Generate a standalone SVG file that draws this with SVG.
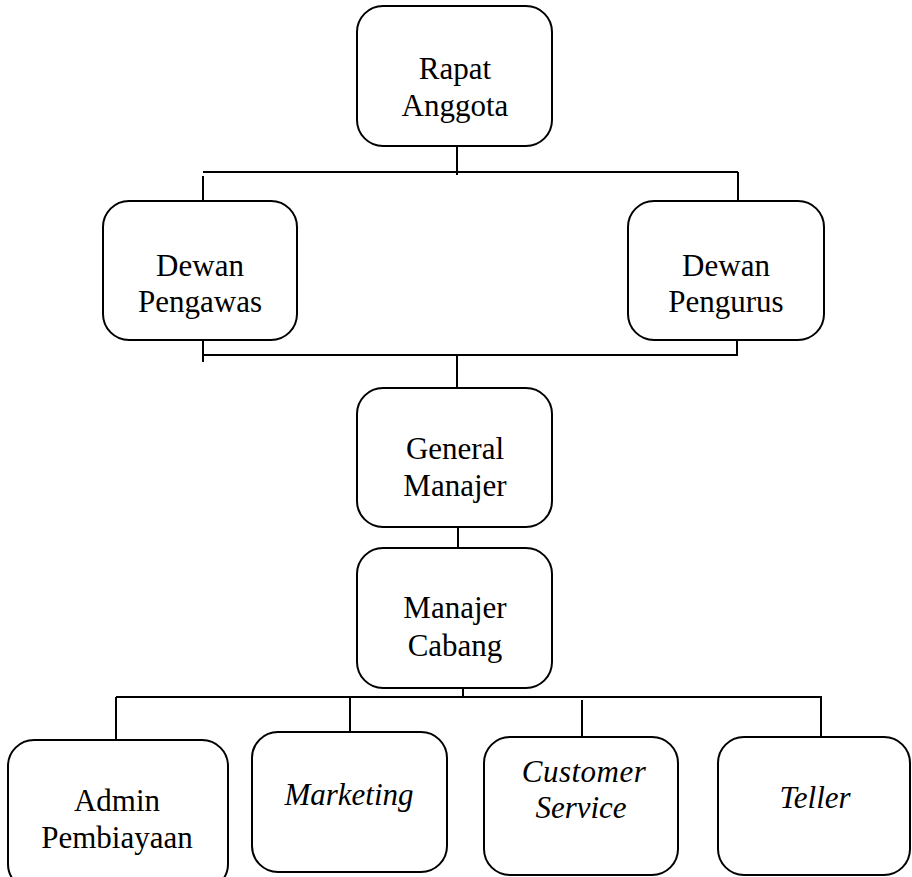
<svg xmlns="http://www.w3.org/2000/svg" width="912" height="877" viewBox="0 0 912 877">
<style>
.box{fill:#fff;stroke:#000;stroke-width:2}
.ln{stroke:#000;stroke-width:2;fill:none}
text{font-family:"Liberation Serif","Times New Roman",serif;font-size:31px;fill:#000;text-anchor:middle}
.it{font-style:italic}
</style>
<rect width="912" height="877" fill="#fff"/>
<g id="connectors">
<line class="ln" x1="457" y1="133" x2="457" y2="175"/>
<line class="ln" x1="203" y1="172" x2="738" y2="172"/>
<line class="ln" x1="203" y1="176" x2="203" y2="201"/>
<line class="ln" x1="738" y1="172" x2="738" y2="201"/>
<line class="ln" x1="203" y1="340" x2="203" y2="362"/>
<line class="ln" x1="203" y1="355" x2="738" y2="355"/>
<line class="ln" x1="737" y1="340" x2="737" y2="355"/>
<line class="ln" x1="457" y1="355" x2="457" y2="388"/>
<line class="ln" x1="458" y1="527" x2="458" y2="548"/>
<line class="ln" x1="463" y1="688" x2="463" y2="697"/>
<line class="ln" x1="116" y1="697" x2="822" y2="697"/>
<line class="ln" x1="116" y1="697" x2="116" y2="740"/>
<line class="ln" x1="350" y1="697" x2="350" y2="740"/>
<line class="ln" x1="582" y1="700" x2="582" y2="743"/>
<line class="ln" x1="821" y1="697" x2="821" y2="743"/>
</g>
<g id="rapat-anggota">
<rect class="box" x="357" y="6" width="195" height="140" rx="26"/>
<text x="455" y="79">Rapat</text>
<text x="455" y="116">Anggota</text>
</g>
<g id="dewan-pengawas">
<rect class="box" x="103" y="201" width="194" height="139" rx="26"/>
<text x="200" y="276">Dewan</text>
<text x="200" y="312">Pengawas</text>
</g>
<g id="dewan-pengurus">
<rect class="box" x="628" y="201" width="196" height="139" rx="26"/>
<text x="726" y="276">Dewan</text>
<text x="726" y="312">Pengurus</text>
</g>
<g id="general-manajer">
<rect class="box" x="357" y="388" width="195" height="139" rx="26"/>
<text x="455" y="459">General</text>
<text x="455" y="496">Manajer</text>
</g>
<g id="manajer-cabang">
<rect class="box" x="357" y="548" width="195" height="140" rx="26"/>
<text x="455" y="618">Manajer</text>
<text x="455" y="656">Cabang</text>
</g>
<g id="admin-pembiayaan">
<rect class="box" x="8" y="740" width="220" height="150" rx="26"/>
<text x="117" y="811">Admin</text>
<text x="117" y="848">Pembiayaan</text>
</g>
<g id="marketing">
<rect class="box" x="252" y="732" width="195" height="140" rx="26"/>
<text class="it" x="349" y="805">Marketing</text>
</g>
<g id="customer-service">
<rect class="box" x="484" y="737" width="194" height="138" rx="26"/>
<text class="it" x="584" y="782" letter-spacing="0.5">Customer</text>
<text class="it" x="581" y="818">Service</text>
</g>
<g id="teller">
<rect class="box" x="718" y="737" width="192" height="138" rx="26"/>
<text class="it" x="815" y="808">Teller</text>
</g>
</svg>
